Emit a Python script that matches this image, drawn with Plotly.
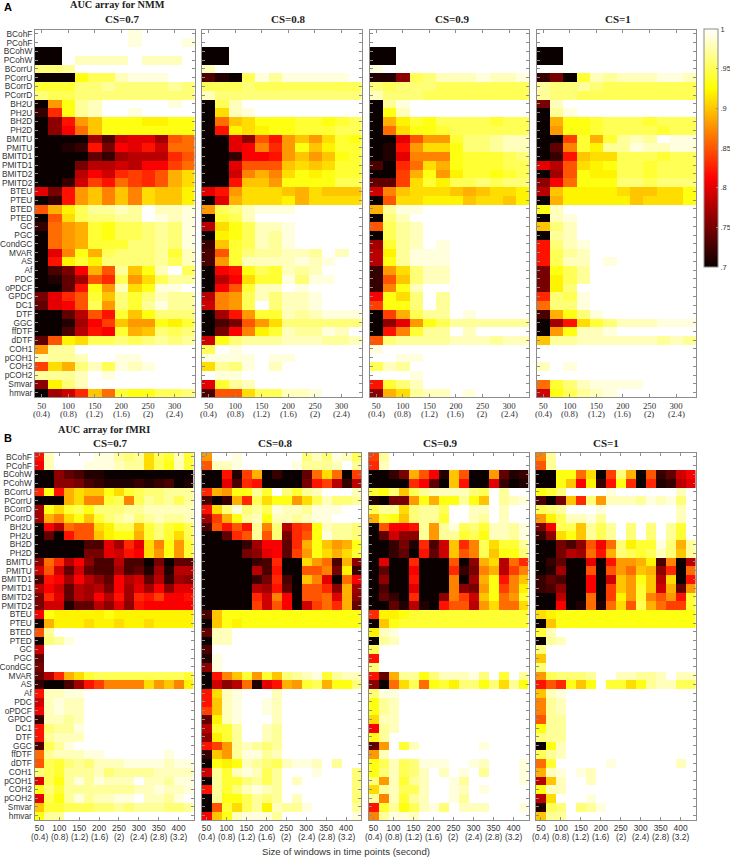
import numpy as np
import plotly.graph_objects as go

METHODS = ["BCohF","PCohF","BCohW","PCohW","BCorrU","PCorrU","BCorrD","PCorrD","BH2U","PH2U","BH2D","PH2D",
           "BMITU","PMITU","BMITD1","PMITD1","BMITD2","PMITD2","BTEU","PTEU","BTED","PTED","GC","PGC","CondGC",
           "MVAR","AS","Af","PDC","oPDCF","GPDC","DC1","DTF","GGC","ffDTF","dDTF","COH1","pCOH1","COH2","pCOH2",
           "Smvar","hmvar"]
WINDOWS_NMM = [50,75,100,125,150,175,200,225,250,275,300,325]
WINDOWS_FMRI = [50,75,100,125,150,175,200,225,250,275,300,325,350,375,400,425]
TICKS_NMM = [50,100,150,200,250,300]
SECONDS_NMM = ["(0.4)","(0.8)","(1.2)","(1.6)","(2)","(2.4)"]
TICKS_FMRI = [50,100,150,200,250,300,350,400]
SECONDS_FMRI = ["(0.4)","(0.8)","(1.2)","(1.6)","(2)","(2.4)","(2.8)","(3.2)"]
CS_LABELS = ["CS=0.7","CS=0.8","CS=0.9","CS=1"]

# AUC values in hundredths
NMM_07 = [
[100,100,100,100,100,100,100,99,100,100,100,100],
[100,100,100,100,100,100,100,99,100,100,100,99],
[70,70,100,100,100,100,100,100,100,100,100,100],
[70,70,100,98,98,98,98,100,98,98,98,100],
[96,96,97,100,100,100,100,100,100,100,100,100],
[70,70,70,93,95,95,98,99,99,99,100,100],
[94,94,94,96,96,97,96,96,96,96,97,96],
[96,95,95,96,96,96,96,96,96,96,96,96],
[70,88,93,97,98,100,100,100,100,100,99,100],
[72,83,93,97,98,100,100,99,100,100,100,100],
[70,76,82,88,90,93,93,93,92,92,93,93],
[70,76,81,86,90,93,93,93,93,93,93,93],
[70,70,70,70,77,73,79,80,80,77,85,86],
[70,70,71,72,82,75,81,80,82,79,86,86],
[70,70,70,70,74,72,77,78,78,78,83,85],
[70,70,70,75,78,78,79,78,81,81,84,86],
[70,70,70,78,81,79,83,84,83,85,89,91],
[70,70,72,79,84,82,86,84,83,85,89,91],
[80,75,82,88,90,87,90,87,91,90,90,92],
[70,72,82,88,90,87,90,87,91,90,90,92],
[85,89,92,95,97,97,98,97,100,98,98,99],
[70,85,91,95,96,96,97,97,100,99,98,99],
[72,86,88,89,94,93,95,95,96,97,96,99],
[70,86,88,89,94,93,95,95,96,97,96,99],
[70,86,88,89,94,94,94,96,96,97,96,99],
[70,80,87,93,89,95,96,96,96,97,94,98],
[70,82,92,94,92,96,96,96,96,97,95,98],
[70,73,75,81,89,85,97,90,93,98,100,95],
[70,71,74,77,85,83,95,88,91,95,97,97],
[70,70,74,82,93,88,98,91,93,99,99,100],
[75,80,83,85,94,90,96,94,96,98,97,97],
[74,80,81,85,95,88,96,94,97,99,97,97],
[70,70,74,78,85,82,94,90,93,96,96,96],
[70,70,71,77,81,84,90,88,88,93,92,94],
[70,70,73,78,82,81,94,89,90,96,95,96],
[74,85,92,91,95,95,96,95,96,97,96,97],
[88,97,97,100,100,100,100,100,100,100,100,100],
[98,97,97,98,100,100,99,99,100,100,100,100],
[84,91,89,96,98,95,99,98,99,100,100,100],
[97,97,97,98,100,99,100,100,100,100,100,100],
[76,92,96,98,100,100,100,100,100,100,100,100],
[70,77,79,83,90,86,94,93,93,95,95,96],
]
NMM_08 = [
[100,100,100,100,100,100,100,100,100,100,100,100],
[100,100,100,100,100,100,100,100,100,100,100,100],
[70,70,100,100,100,100,100,100,100,100,100,100],
[70,70,100,100,100,100,100,100,100,100,100,100],
[98,100,100,100,100,100,100,100,100,100,100,100],
[73,71,70,95,99,97,99,99,99,99,99,100],
[95,95,95,96,95,95,95,95,95,95,95,95],
[98,96,96,96,96,96,96,96,96,96,96,96],
[70,95,98,100,100,100,100,100,100,100,100,100],
[70,91,98,99,100,100,100,100,100,100,100,100],
[70,86,90,91,93,93,93,94,94,93,94,95],
[70,82,92,91,92,93,93,94,94,94,95,95],
[70,70,80,76,85,82,88,90,88,91,94,93],
[70,70,80,81,87,83,88,93,90,92,94,94],
[70,70,72,81,81,82,88,90,88,90,93,94],
[70,70,80,85,85,85,90,91,90,91,94,94],
[70,70,79,87,89,87,91,93,92,93,94,94],
[70,70,82,90,90,88,93,93,93,93,95,95],
[80,82,88,91,91,91,90,89,91,90,90,90],
[70,80,89,91,91,91,92,89,91,91,91,91],
[88,95,96,98,99,99,99,100,100,100,100,100],
[70,94,95,98,100,100,100,100,100,100,100,100],
[78,91,93,95,98,98,99,100,100,100,100,100],
[70,92,93,95,98,97,99,100,100,100,100,100],
[72,90,94,95,98,97,99,100,100,100,100,100],
[73,85,94,96,97,97,98,98,97,100,98,100],
[73,88,94,98,98,98,98,99,98,99,100,100],
[70,81,82,93,95,94,98,97,98,100,100,100],
[70,78,81,91,94,94,99,96,99,99,100,100],
[70,81,85,94,98,98,100,99,100,100,100,100],
[78,87,88,95,98,96,98,98,99,100,100,100],
[79,87,88,95,100,96,98,98,99,100,100,100],
[70,77,82,88,94,94,98,97,98,99,99,99],
[70,73,75,85,88,91,96,96,96,96,96,96],
[70,75,81,87,92,94,98,97,97,99,98,100],
[79,93,96,97,97,97,98,98,98,97,97,98],
[95,100,99,100,100,100,100,100,100,100,100,100],
[99,99,99,99,100,99,99,100,100,100,100,100],
[91,97,96,99,100,98,100,100,100,100,100,100],
[100,99,99,100,100,100,100,100,100,100,100,100],
[80,94,97,98,100,100,100,100,100,100,100,100],
[73,85,85,91,95,95,98,98,99,100,100,100],
]
NMM_09 = [
[100,100,100,100,100,100,100,100,100,100,100,100],
[100,100,100,100,100,100,100,100,100,100,100,100],
[70,70,100,100,100,100,100,100,100,100,100,100],
[70,70,100,100,100,100,100,100,100,100,100,100],
[99,100,100,100,100,100,100,100,100,100,100,100],
[71,71,76,95,96,98,98,98,99,98,98,99],
[96,95,96,96,96,95,95,95,95,95,95,95],
[98,96,96,96,95,95,95,95,95,95,95,95],
[70,97,99,100,100,100,100,100,100,100,100,100],
[70,93,98,100,100,100,100,100,100,100,100,100],
[70,89,92,94,93,95,95,95,95,94,95,95],
[70,86,91,93,93,94,95,95,95,95,95,95],
[70,70,80,85,88,88,94,96,96,97,98,98],
[70,71,82,88,91,91,93,96,96,97,98,98],
[70,71,80,87,87,87,93,94,94,94,95,96],
[73,70,83,86,91,89,93,94,94,94,95,95],
[70,70,84,89,93,88,92,94,94,93,94,95],
[74,74,84,91,94,92,95,95,96,95,96,96],
[79,87,90,91,91,91,90,89,90,91,91,92],
[70,85,91,91,92,92,92,90,91,91,90,92],
[89,97,99,99,100,100,100,100,100,100,100,100],
[70,96,98,100,100,100,100,100,100,100,100,100],
[85,95,97,98,100,100,100,100,100,100,100,100],
[70,95,97,98,100,100,100,100,100,100,100,100],
[77,94,97,98,100,99,100,100,100,100,100,100],
[78,92,97,99,99,99,100,100,100,100,100,100],
[78,93,97,99,99,99,100,100,100,100,100,100],
[72,88,91,96,98,98,100,100,100,100,100,100],
[72,85,90,96,98,98,100,100,100,100,100,100],
[72,87,93,98,100,100,100,100,100,100,100,100],
[81,93,91,96,100,97,100,100,100,100,100,100],
[84,93,93,96,100,97,100,100,100,100,100,100],
[70,84,89,95,97,97,100,99,100,100,100,100],
[70,76,80,88,93,95,97,97,97,97,97,97],
[70,82,87,94,97,97,100,98,100,100,100,100],
[85,96,97,97,97,97,98,98,98,97,98,98],
[99,100,100,100,100,100,100,100,100,100,100,100],
[100,100,99,99,100,100,100,100,100,100,100,100],
[95,98,97,100,100,100,100,100,100,100,100,100],
[100,100,100,99,100,100,100,100,100,100,100,100],
[82,94,96,98,100,100,100,100,100,100,100,100],
[76,89,91,97,98,98,100,99,100,100,100,100],
]
NMM_10 = [
[100,100,100,100,100,100,100,100,100,100,100,100],
[100,100,100,100,100,100,100,100,100,100,100,100],
[70,70,100,100,100,100,100,100,100,100,100,100],
[70,70,100,100,100,100,100,100,100,100,100,100],
[100,100,100,100,100,100,100,100,100,100,100,100],
[72,75,70,94,98,97,98,98,98,99,99,98],
[97,96,96,97,96,95,95,95,95,95,95,95],
[97,96,96,95,95,95,95,95,95,95,95,95],
[75,98,100,100,100,100,100,100,100,100,100,100],
[70,97,99,100,100,100,100,100,100,100,100,100],
[70,89,93,93,94,95,95,95,94,95,95,95],
[70,88,93,93,94,95,95,95,95,94,95,95],
[70,70,84,94,89,94,97,98,97,100,99,99],
[70,74,87,94,92,97,97,99,98,98,99,99],
[70,72,82,90,91,91,95,95,95,94,95,95],
[80,78,85,91,92,93,95,95,94,95,95,95],
[70,77,85,93,92,92,95,95,94,95,95,95],
[76,81,86,93,93,93,96,96,95,96,96,96],
[78,90,92,92,92,92,91,90,90,91,91,93],
[70,89,92,92,92,92,92,90,91,91,91,93],
[93,98,100,100,100,100,100,100,100,100,100,100],
[70,98,99,100,100,100,100,100,100,100,100,100],
[90,96,98,100,100,100,100,100,100,100,100,100],
[70,97,98,100,100,100,100,100,100,100,100,100],
[82,96,98,99,100,100,100,100,100,100,100,100],
[82,95,97,98,100,100,100,100,100,100,100,100],
[82,95,98,98,100,99,100,100,100,100,100,100],
[75,93,95,97,100,100,100,100,100,100,100,100],
[75,92,95,97,100,100,100,100,100,100,100,100],
[75,92,96,100,100,100,100,100,100,100,100,100],
[83,96,95,99,100,100,100,100,100,100,100,100],
[86,96,96,99,100,100,100,100,100,100,100,100],
[73,89,93,96,99,100,100,100,100,100,100,100],
[70,77,82,91,94,96,98,98,98,99,99,99],
[70,88,93,98,98,99,100,100,100,100,100,100],
[90,97,97,98,98,98,98,98,98,97,98,97],
[100,100,100,100,100,100,100,100,100,100,100,100],
[100,100,100,100,100,100,100,100,100,100,100,100],
[98,100,99,100,100,100,100,100,100,100,100,100],
[100,100,100,100,100,100,100,100,100,100,100,100],
[86,94,96,98,99,99,99,99,100,100,100,100],
[79,93,95,97,98,99,100,100,100,100,100,100],
]
FMRI_07 = [
[82,98,100,100,100,100,99,99,97,96,97,91,95,94,98,94],
[81,98,100,100,100,99,99,99,98,97,97,91,95,93,98,94],
[70,70,76,74,73,71,71,70,70,70,70,70,70,70,70,70],
[70,70,76,76,75,73,72,71,71,71,72,71,72,73,70,71],
[83,93,82,89,91,90,90,93,91,94,95,96,96,97,97,97],
[70,70,70,89,91,87,87,94,95,87,95,97,96,97,95,97],
[77,93,91,94,95,93,96,96,96,97,97,98,98,98,98,98],
[77,89,87,91,93,90,94,96,97,98,96,97,98,97,97,98],
[70,81,78,86,85,85,91,92,95,95,90,94,96,94,93,95],
[70,74,70,82,85,85,90,92,93,93,89,94,96,94,91,95],
[70,70,70,70,70,73,73,80,77,83,80,91,87,93,88,94],
[70,70,70,70,70,75,75,80,79,82,81,91,88,93,88,94],
[76,86,83,78,81,76,73,73,78,73,73,70,75,70,74,74],
[79,85,79,74,79,74,73,73,77,73,74,71,77,71,78,78],
[73,82,81,77,81,78,76,74,81,78,79,74,78,72,77,76],
[78,81,79,74,78,77,78,75,81,77,80,77,81,76,80,80],
[75,83,80,74,78,77,81,78,82,77,83,82,84,81,81,82],
[75,79,79,71,74,74,78,76,80,76,82,81,81,81,81,81],
[81,93,92,92,92,92,92,93,92,92,92,92,92,92,92,92],
[70,89,92,92,92,91,92,92,91,92,92,91,92,92,92,92],
[85,97,100,100,100,100,100,100,100,100,100,100,100,100,100,100],
[70,96,97,99,100,100,100,100,100,100,100,100,100,100,100,100],
[79,100,100,100,100,100,100,100,100,100,100,100,100,100,100,100],
[74,100,100,100,100,100,100,100,100,100,100,100,100,100,100,100],
[75,100,100,100,100,100,100,100,100,100,100,100,100,100,100,100],
[74,78,83,89,91,94,95,95,95,95,95,95,95,95,95,94],
[72,70,70,73,77,82,84,87,87,87,87,91,88,90,87,92],
[82,98,98,99,99,100,100,100,100,100,100,100,100,100,100,100],
[79,98,99,98,98,100,100,100,100,100,100,100,100,100,100,100],
[81,98,99,98,98,100,100,100,100,100,100,100,100,100,100,100],
[72,98,98,97,98,100,100,100,100,100,100,100,100,100,100,100],
[82,96,97,97,99,100,100,100,100,100,100,100,100,100,100,100],
[82,97,98,98,98,100,100,100,100,100,100,100,100,100,100,100],
[73,95,97,99,100,100,100,100,100,100,100,100,100,100,100,100],
[86,97,98,98,98,99,99,100,100,100,100,100,100,99,100,100],
[85,95,94,96,97,96,98,98,98,99,99,99,99,98,99,99],
[96,95,94,97,97,97,98,96,97,97,97,97,98,98,98,98],
[80,95,93,97,99,97,99,98,98,98,100,98,98,97,99,99],
[93,96,94,97,97,97,97,97,97,97,98,98,99,98,98,99],
[80,95,93,97,99,97,98,98,99,99,100,98,98,97,99,100],
[90,94,94,95,95,95,96,96,97,96,97,97,97,96,96,97],
[93,97,97,100,100,100,100,100,100,100,100,100,100,100,100,100],
]
FMRI_08 = [
[88,100,100,99,100,100,100,100,100,100,96,98,96,99,98,95],
[85,98,98,99,100,100,100,100,100,99,97,97,97,98,100,97],
[70,70,82,71,84,89,70,72,70,70,74,86,91,86,70,84],
[70,70,80,73,83,82,70,70,70,70,75,82,84,78,72,78],
[83,89,88,93,93,97,94,100,96,94,97,98,100,100,100,98],
[73,70,72,89,83,95,91,93,93,88,91,95,98,96,96,97],
[82,91,96,99,96,97,95,99,98,98,97,99,99,99,100,100],
[77,84,89,93,97,98,93,98,98,97,98,99,99,100,100,100],
[73,85,82,85,82,97,87,96,78,83,84,93,98,97,97,96],
[70,70,74,83,85,97,85,96,75,83,85,93,99,97,97,96],
[70,70,70,70,72,77,81,81,74,83,89,93,90,88,89,93],
[70,70,70,70,75,76,80,81,74,84,88,93,91,89,91,94],
[70,70,70,70,70,72,73,83,70,70,91,88,86,73,89,76],
[70,70,70,70,70,78,73,82,70,70,85,85,87,75,92,72],
[70,70,70,70,70,72,75,83,73,70,90,87,80,70,86,81],
[70,70,70,70,70,78,77,82,74,70,85,85,83,76,89,77],
[70,70,70,70,70,83,79,87,81,70,85,85,86,80,89,76],
[70,70,70,70,70,84,79,85,81,70,79,84,86,83,89,74],
[73,90,93,93,93,93,93,93,93,93,93,93,93,93,93,93],
[70,90,93,92,93,93,93,93,93,93,93,93,93,93,93,93],
[74,98,98,100,100,100,100,100,100,100,100,100,100,100,100,100],
[70,98,98,100,100,100,100,100,100,100,100,100,100,100,100,100],
[73,100,100,100,100,100,100,100,100,100,100,100,100,100,100,100],
[71,99,100,100,100,100,100,100,100,100,100,100,100,100,100,100],
[76,99,100,100,100,100,100,100,100,100,100,100,100,100,100,100],
[70,82,87,90,94,88,94,90,96,97,98,99,94,97,98,98],
[70,79,76,78,86,71,80,82,89,88,94,95,89,93,93,96],
[82,91,98,99,100,100,100,98,100,100,100,100,100,100,100,100],
[82,90,98,99,100,100,99,98,100,100,100,100,100,100,100,100],
[84,90,98,99,100,100,99,98,100,100,100,100,100,100,100,100],
[74,92,98,99,100,100,100,98,100,100,100,100,100,100,100,100],
[78,94,94,97,100,100,98,97,100,100,100,100,100,100,100,100],
[76,92,94,97,100,100,98,97,100,100,100,100,100,100,100,100],
[82,84,88,97,98,97,96,97,100,100,100,100,100,100,100,100],
[72,90,88,97,99,99,97,98,100,100,100,100,100,100,100,100],
[70,93,92,93,98,97,96,95,98,99,99,98,100,97,100,100],
[79,97,94,98,99,98,95,97,100,100,100,99,100,100,100,96],
[70,97,94,94,96,97,95,97,100,98,100,100,100,100,100,96],
[82,97,94,96,98,99,98,97,100,100,100,100,100,100,100,96],
[70,97,93,93,95,97,96,97,100,98,100,100,100,100,100,96],
[70,85,94,91,95,97,92,98,97,97,99,100,100,100,100,97],
[81,90,93,98,99,99,99,97,100,100,100,100,100,100,100,99],
]
FMRI_09 = [
[84,97,100,100,100,100,100,100,100,100,100,100,100,100,100,100],
[83,98,100,100,100,100,100,100,100,100,100,100,100,100,100,100],
[70,70,72,75,89,85,81,71,90,85,70,70,88,74,71,72],
[70,70,70,70,83,81,74,70,90,82,70,70,80,72,70,71],
[94,93,96,90,95,97,98,98,98,98,96,95,100,97,100,100],
[71,70,75,75,88,93,89,93,93,97,93,90,100,97,98,99],
[95,97,97,91,96,97,97,95,100,100,98,98,100,98,100,100],
[89,94,93,90,96,97,97,94,100,100,98,97,100,98,100,100],
[70,85,81,81,82,97,88,97,99,95,96,94,98,98,97,99],
[70,74,79,76,76,97,88,97,97,94,95,93,98,98,97,99],
[70,70,72,75,71,83,73,79,90,83,87,95,91,94,94,97],
[70,70,72,74,70,82,74,79,90,85,87,95,90,93,93,96],
[70,80,70,70,83,70,70,70,85,70,76,89,91,78,86,83],
[70,74,70,70,81,70,70,70,83,72,75,87,89,78,84,87],
[70,76,70,70,82,70,70,70,87,70,77,89,93,82,87,90],
[70,73,70,70,80,70,70,70,87,76,75,88,93,84,87,92],
[70,74,72,70,83,70,70,76,87,84,79,90,93,86,88,94],
[70,70,74,71,78,71,70,82,85,85,78,88,91,86,86,91],
[83,92,92,93,94,94,94,94,94,94,94,94,94,94,94,94],
[70,90,93,94,94,94,94,94,94,94,94,94,94,94,94,94],
[92,98,99,100,100,100,100,100,100,100,100,100,100,100,100,100],
[70,97,98,100,100,100,100,100,100,100,100,100,100,100,100,100],
[95,100,100,100,100,100,100,100,100,100,100,100,100,100,100,100],
[82,100,100,100,100,100,100,100,100,100,100,100,100,100,100,100],
[96,100,100,100,100,100,100,100,100,100,100,100,100,100,100,100],
[82,74,89,97,97,93,96,98,98,98,99,96,100,94,100,97],
[76,70,86,91,95,86,93,94,92,96,96,93,96,91,97,93],
[96,99,99,100,100,100,100,100,100,100,100,100,100,100,100,100],
[93,97,98,100,100,100,100,100,100,100,100,100,100,100,100,100],
[93,97,98,100,100,100,100,100,100,100,100,100,100,100,100,100],
[91,98,98,100,100,100,100,100,100,100,100,100,100,100,100,100],
[81,97,98,100,100,100,100,100,100,100,100,100,100,100,100,100],
[93,97,100,100,100,100,100,100,100,100,100,100,100,100,100,100],
[74,88,100,94,98,100,100,100,100,100,100,99,100,100,100,100],
[88,98,100,100,100,100,100,100,100,100,100,100,100,100,100,100],
[93,95,98,95,96,99,99,99,100,100,99,98,100,100,100,99],
[93,96,98,95,96,98,100,98,100,99,100,97,100,100,100,99],
[96,88,98,94,97,98,100,100,99,97,100,100,100,100,100,99],
[91,97,98,95,95,98,100,100,99,98,100,99,100,100,100,100],
[97,87,98,94,97,98,100,100,99,97,100,100,100,100,100,100],
[82,94,97,93,95,98,99,96,100,98,98,98,100,100,100,99],
[87,97,99,99,98,100,100,100,100,100,100,100,100,100,100,100],
]
FMRI_10 = [
[87,97,100,100,100,100,100,100,100,100,100,100,100,100,100,100],
[85,97,100,100,100,100,100,100,100,100,100,100,100,100,100,100],
[70,70,93,93,86,91,70,84,96,89,70,85,72,74,79,81],
[70,70,93,90,81,92,72,82,93,83,70,83,71,72,78,80],
[93,94,96,100,100,100,100,99,100,100,100,100,100,100,98,100],
[73,70,75,90,83,96,88,98,98,98,97,99,98,99,96,100],
[95,96,97,100,100,100,99,100,100,100,100,100,100,100,98,100],
[88,92,95,98,98,99,97,100,100,100,100,100,100,100,98,100],
[75,81,95,95,90,97,95,97,100,96,100,96,100,97,94,100],
[72,76,91,93,90,97,95,97,100,96,100,96,100,97,94,100],
[70,70,75,73,76,85,81,86,96,92,94,94,99,96,89,97],
[70,70,75,78,77,86,82,89,96,95,94,95,98,96,90,97],
[70,72,74,70,70,80,70,82,88,88,89,92,73,87,70,78],
[70,71,77,70,70,85,70,85,88,86,90,89,76,83,70,86],
[72,74,73,70,70,81,70,79,90,88,93,90,78,91,70,82],
[72,73,76,70,70,81,70,84,90,88,94,90,79,89,74,88],
[70,70,78,70,70,86,70,84,92,88,94,87,85,88,82,94],
[70,70,81,70,71,86,71,86,91,85,95,89,86,84,84,94],
[91,92,93,93,93,93,93,93,93,93,93,93,93,93,93,93],
[70,90,93,93,93,93,93,93,93,93,93,93,93,93,93,93],
[94,98,100,100,100,100,100,100,100,100,100,100,100,100,100,100],
[70,97,98,100,100,100,100,100,100,100,100,100,100,100,100,100],
[96,100,100,100,100,100,100,100,100,100,100,100,100,100,100,100],
[90,100,100,100,100,100,100,100,100,100,100,100,100,100,100,100],
[96,100,100,100,100,100,100,100,100,100,100,100,100,100,100,100],
[88,95,96,96,96,97,100,100,98,98,97,97,98,100,98,98],
[82,85,83,93,90,93,100,94,94,91,93,97,98,98,95,95],
[90,98,99,100,100,100,100,100,100,100,100,100,100,100,100,100],
[87,97,98,100,100,100,100,100,100,100,100,100,100,100,100,100],
[87,97,98,100,100,100,100,100,100,100,100,100,100,100,100,100],
[85,97,97,100,100,100,100,100,100,100,100,100,100,100,100,100],
[93,97,97,100,100,100,100,100,100,100,100,100,100,100,100,100],
[96,97,97,100,100,100,100,100,100,100,100,100,100,100,100,100],
[70,93,98,100,100,100,100,100,100,100,100,100,100,100,100,100],
[95,97,98,100,100,100,100,100,100,100,100,100,100,100,100,100],
[86,94,100,100,100,100,100,99,100,100,100,100,100,100,98,100],
[89,98,99,100,99,98,100,100,100,100,100,100,100,100,100,100],
[78,90,98,100,100,98,100,100,100,100,100,100,100,100,100,100],
[93,98,98,100,100,100,100,100,100,100,100,100,100,100,100,100],
[78,91,100,100,100,99,100,100,100,100,100,100,100,100,100,100],
[71,95,96,100,96,97,99,100,100,100,100,100,100,100,100,100],
[90,97,97,100,100,100,100,100,100,100,100,100,100,100,100,100],
]

W, H = 730, 858
def px(v): return v / W
def py(v): return 1 - v / H

HOT = [[0, "#0a0000"], [0.375, "#ff0000"], [0.75, "#ffff00"], [1, "#ffffff"]]
GRAY = "#8c8c8c"
TEXT = "#333333"
SERIF = "Liberation Serif"
SANS = "Liberation Sans"

fig = go.Figure()

A_X = [(35, 194.5), (202, 361.5), (369.5, 529), (536.5, 696)]
A_Y = (29.5, 397)
B_X = [(34.5, 193.5), (201.5, 361), (368.5, 528.5), (536, 695.5)]
B_Y = (452.5, 820)

groups = [
    (A_X, A_Y, [NMM_07, NMM_08, NMM_09, NMM_10], WINDOWS_NMM, TICKS_NMM, SECONDS_NMM, SERIF, 8.8,
     (37.5, 337.5), 405, 413.5),
    (B_X, B_Y, [FMRI_07, FMRI_08, FMRI_09, FMRI_10], WINDOWS_FMRI, TICKS_FMRI, SECONDS_FMRI, SANS, 8.4,
     (37.5, 437.5), 828, 836.5),
]
annotations = []
n = 0
for xs, ys, panels, wins, ticks, secs, tfont, tsize, xr, y1, y2 in groups:
    for i, (dom, rows) in enumerate(zip(xs, panels)):
        n += 1
        sx = "" if n == 1 else str(n)
        z = np.array(rows) / 100
        fig.add_trace(go.Heatmap(z=z, x=wins, y=METHODS, coloraxis="coloraxis",
                                 xaxis="x" + sx, yaxis="y" + sx, hoverongaps=False))
        fig.update_layout({
            "xaxis" + sx: dict(domain=[px(dom[0]), px(dom[1])], anchor="y" + sx, range=list(xr),
                               tickmode="array", tickvals=ticks, ticktext=[str(t) for t in ticks],
                               ticks="inside", ticklen=3, tickwidth=1, tickcolor=GRAY, showline=True,
                               linecolor=GRAY, linewidth=1, mirror="allticks", showgrid=False, zeroline=False,
                               tickangle=0, tickfont=dict(family=tfont, size=tsize, color=TEXT), automargin=False),
            "yaxis" + sx: dict(domain=[py(ys[1]), py(ys[0])], anchor="x" + sx, type="category",
                               autorange="reversed", categoryorder="array", categoryarray=METHODS,
                               ticks="inside", ticklen=3, tickwidth=1, tickcolor=GRAY, showline=True,
                               linecolor=GRAY, linewidth=1, mirror="allticks", showgrid=False, zeroline=False,
                               showticklabels=(i == 0), tickmode="array", tickvals=METHODS, ticktext=METHODS,
                               ticklabelstandoff=0,
                               tickfont=dict(family=SANS, size=8.3, color=TEXT), automargin=False),
        })
        for t, s in zip(ticks, secs):
            annotations.append(dict(x=t, xref="x" + sx, y=py(y2), yref="paper", text=s, showarrow=False,
                                    xanchor="center", yanchor="middle",
                                    font=dict(family=tfont, size=tsize, color=TEXT)))

def label(x, y, text, family, size, bold=False, color="#222222", anchor="center"):
    annotations.append(dict(x=px(x), y=py(y), xref="paper", yref="paper", text=f"<b>{text}</b>" if bold else text,
                            showarrow=False, xanchor=anchor, yanchor="middle",
                            font=dict(family=family, size=size, color=color)))

label(2, 7, "A", SANS, 11, True, "#000000", "left")
label(2, 438, "B", SANS, 11, True, "#000000", "left")
label(117, 5, "AUC array for NMM", SERIF, 10.3, True)
label(104, 429, "AUC array for fMRI", SERIF, 10.3, True)
for cx, t in zip([122, 288, 453, 618], CS_LABELS):
    label(cx, 19, t, SERIF, 11, True)
for cx, t in zip([110, 275, 440, 606], CS_LABELS):
    label(cx, 443, t, SERIF, 11, True)
label(345.5, 851, "Size of windows in time points (second)", SANS, 9.6, False, TEXT)

fig.update_layout(
    width=W, height=H, margin=dict(l=0, r=0, t=0, b=0, autoexpand=False), paper_bgcolor="white", plot_bgcolor="white",
    coloraxis=dict(cmin=0.7, cmax=1, colorscale=HOT,
                   colorbar=dict(x=px(704), xanchor="left", y=py(29), yanchor="top", len=238 / H, lenmode="fraction",
                                 thickness=14, thicknessmode="pixels", xpad=0, ypad=0,
                                 outlinecolor=GRAY, outlinewidth=1, ticks="inside", ticklen=2, tickcolor=GRAY,
                                 tickmode="array", tickvals=[0.7, 0.75, 0.8, 0.85, 0.9, 0.95, 1],
                                 ticktext=[".7", ".75", ".8", ".85", ".9", ".95", "1"],
                                 tickfont=dict(family=SANS, size=7.5, color=TEXT))),
    annotations=annotations, showlegend=False,
)
fig.write_html("out.html", config={"displayModeBar": False}, post_script="document.body.style.margin='0';")
